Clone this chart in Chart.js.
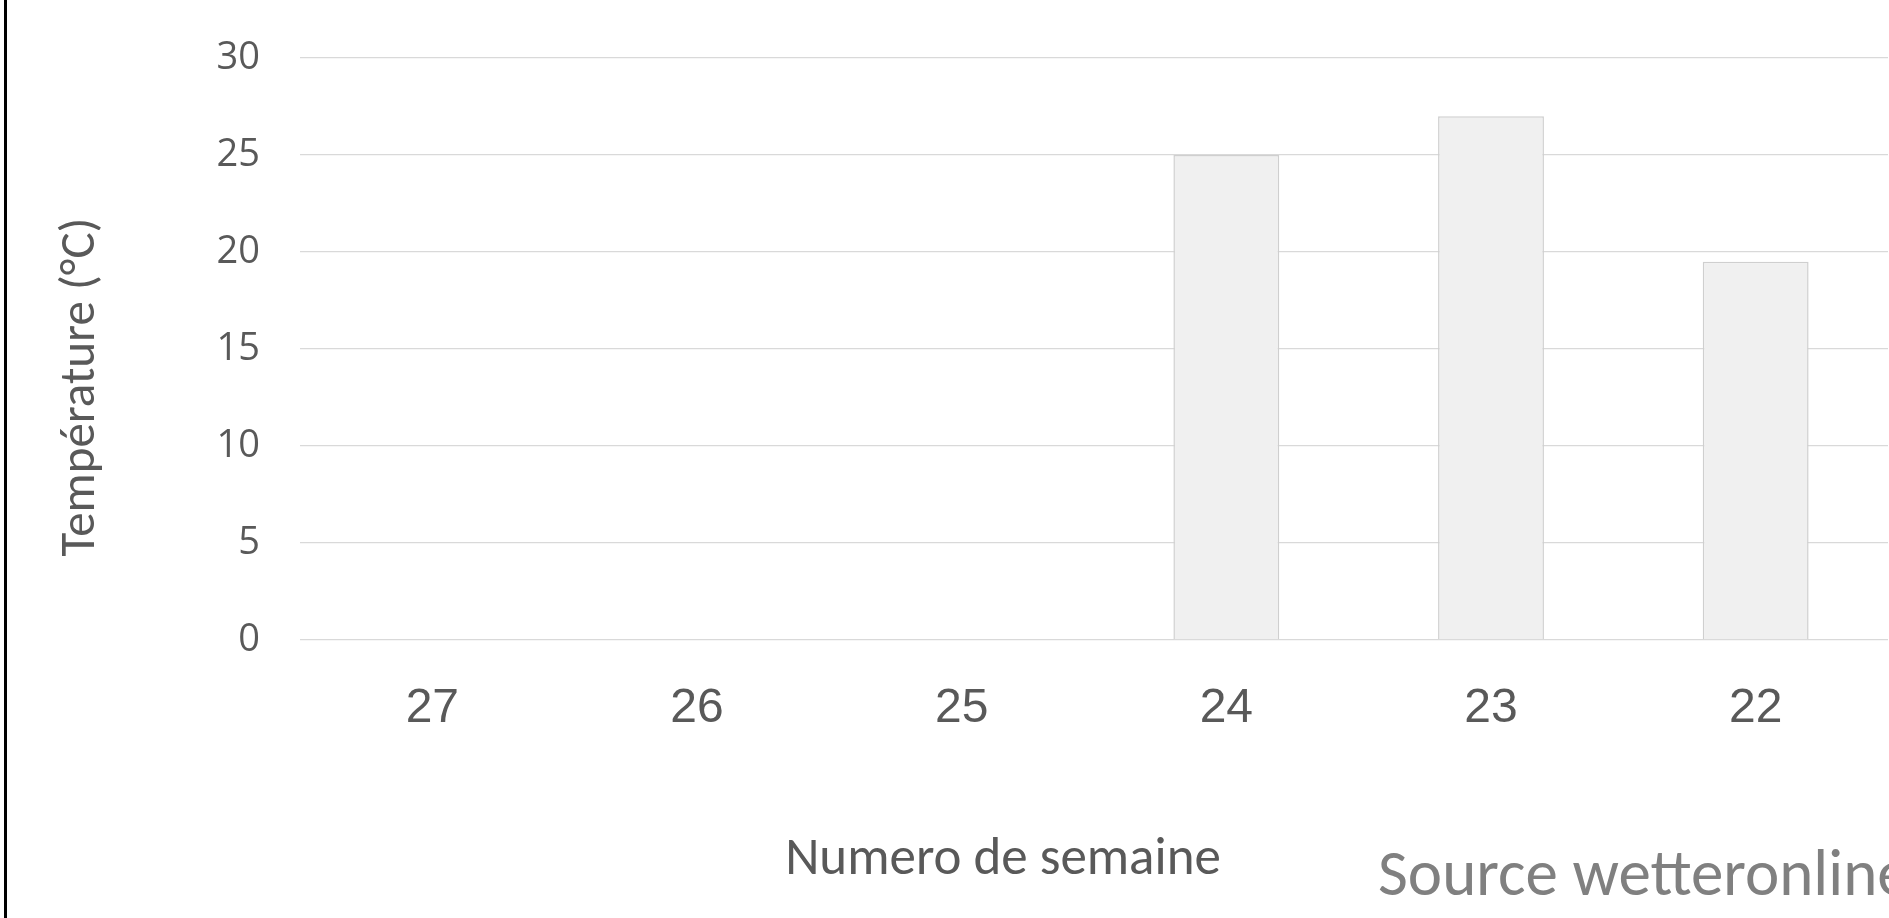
<!DOCTYPE html>
<html>
<head>
<meta charset="utf-8">
<title>Température par semaine</title>
<script src="https://cdn.jsdelivr.net/npm/chart.js@4/dist/chart.umd.min.js"></script>
<style>
  html, body { margin: 0; padding: 0; background: #fff; overflow: hidden; }
  #wrap { position: relative; width: 1889px; height: 918px; }
  #frame { position: absolute; left: 4px; top: 0; width: 3px; height: 918px; background: #000; }
</style>
</head>
<body>
<div id="wrap">
  <canvas id="tempChart" width="1889" height="918"></canvas>
  <div id="frame"></div>
</div>
<script>
// week numbers, shown newest first like the original sheet
const weeks = ['27', '26', '25', '24', '23', '22'];
// weekly temperature (°C), empty weeks have no value yet
const temperatures = [null, null, null, 25, 27, 19.5];
const yTicks = [0, 5, 10, 15, 20, 25, 30];

const yTitle = 'Température (°C)';
const xTitle = 'Numero de semaine';
const sourceText = 'Source wetteronline';

// free-floating texts, placed like in the excel sheet
const sheetTexts = {
  id: 'sheetTexts',
  afterDraw(chart) {
    const ctx = chart.ctx;
    ctx.save();
    ctx.fillStyle = '#595959';
    ctx.textAlign = 'center';
    ctx.textBaseline = 'alphabetic';

    // y title, rotated
    ctx.font = '49px Carlito, Lato, sans-serif';
    ctx.save();
    ctx.translate(94, 387);
    ctx.rotate(-Math.PI / 2);
    ctx.fillText(yTitle, 0, 0);
    ctx.restore();

    // x title
    ctx.font = '53px Carlito, Lato, sans-serif';
    ctx.fillText(xTitle, 1003, 874);

    // source, runs off the right edge
    ctx.fillStyle = '#808080';
    ctx.textAlign = 'left';
    ctx.font = '65px Carlito, Lato, sans-serif';
    ctx.fillText(sourceText, 1378, 895);
    ctx.restore();
  }
};

const ctx = document.getElementById('tempChart').getContext('2d');

new Chart(ctx, {
  type: 'bar',
  data: {
    labels: weeks,
    datasets: [
      {
        label: 'Température',
        data: temperatures,
        backgroundColor: '#f0f0f0',
        borderColor: '#cfcfcf',
        borderWidth: 1.5,
        categoryPercentage: 1,
        barPercentage: 0.4,
      },
    ],
  },
  options: {
    responsive: false,
    animation: false,
    layout: {
      padding: { top: 58, right: 1, bottom: 0, left: 0 }
    },
    plugins: {
      legend: { display: false },
      tooltip: { enabled: false }
    },
    scales: {
      x: {
        grid: { display: false },
        border: { display: false },
        ticks: {
          color: '#595959',
          padding: 32,
          font: { family: 'Liberation Sans', size: 48 }
        },
        afterFit: scale => { scale.height = 278; }
      },
      y: {
        min: 0,
        max: 30,
        afterBuildTicks: scale => {
          scale.ticks = yTicks.map(v => ({ value: v }));
        },
        grid: { color: '#d9d9d9', lineWidth: 1.3, drawTicks: false },
        border: { display: false },
        ticks: {
          color: '#595959',
          padding: 40,
          font: { family: 'Open Sans', size: 38 }
        },
        afterFit: scale => {
          scale.width = 300;
          scale.paddingTop = 0;
          scale.paddingBottom = 0;
        }
      }
    }
  },
  plugins: [sheetTexts]
});
</script>
</body>
</html>
